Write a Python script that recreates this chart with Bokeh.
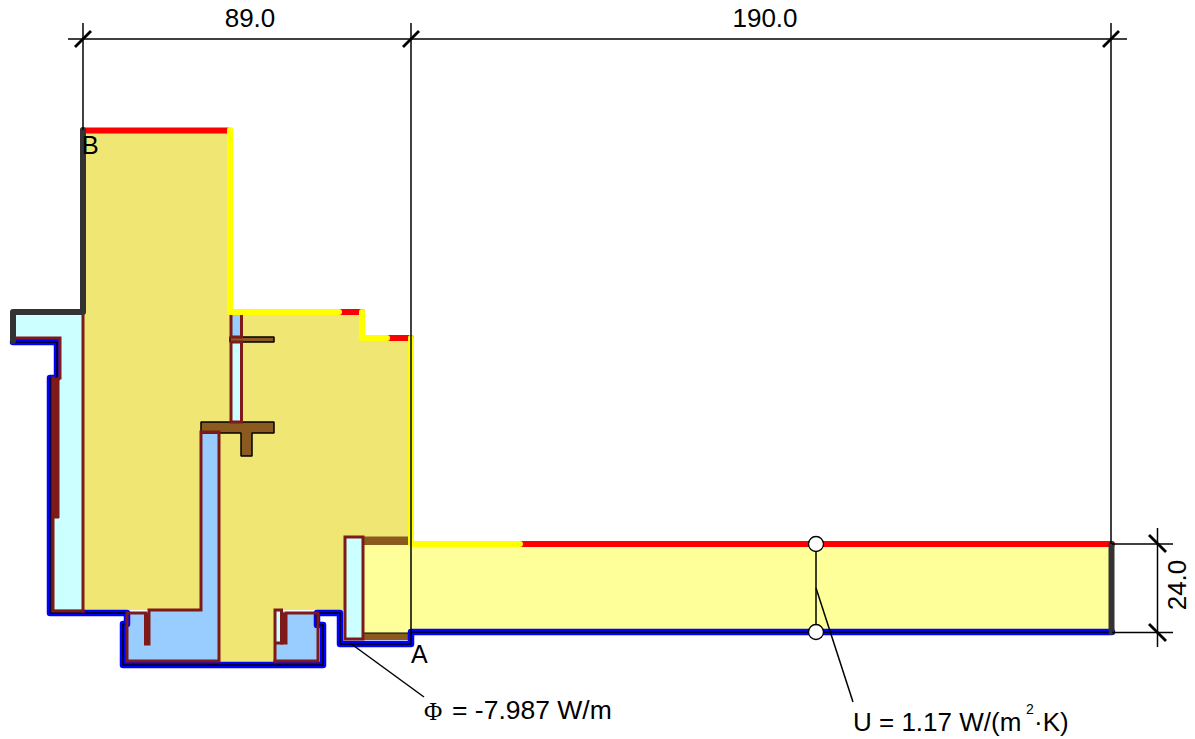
from bokeh.plotting import figure
from bokeh.models import Range1d
from bokeh.embed import file_html
from bokeh.resources import INLINE
from bokeh.core.properties import value

KHAKI = "#F0E674"; PALE = "#FFFF99"; CYAN = "#CCFFFF"; SKY = "#99CCFF"
BROWN = "#8B5A1E"; WINE = "#7F1A1A"; DARK = "#333333"

# material regions (x list, y list), in drawing coordinates
khaki_x = [83, 230, 230, 362, 362, 411, 411, 363, 345, 345, 274, 274, 219, 219, 201, 201, 83]
khaki_y = [130, 130, 312, 312, 338, 338, 544, 544, 537, 610, 610, 662, 662, 432, 432, 610, 610]
pale_x = [363, 411, 411, 1112, 1112, 411, 411, 363]
pale_y = [544, 544, 544, 544, 632, 632, 636, 636]
cyan_left_x = [13, 83, 83, 52, 52, 59, 59, 13]
cyan_left_y = [312, 312, 611, 611, 378, 378, 338, 338]
sky_left_x = [127, 145, 145, 149, 149, 201, 201, 219, 219, 127]
sky_left_y = [613, 613, 644, 644, 610, 610, 432, 432, 661, 661]
sky_right_x = [274, 274, 281, 287, 287, 318, 318]
sky_right_y = [661, 643, 643, 643, 613, 613, 661]
cyan_slot_x = [274, 281, 281, 274]
cyan_slot_y = [610, 610, 643, 643]
sky_top_x = [230, 242, 242, 230]
sky_top_y = [312, 312, 338, 338]
cyan_mid_x = [230, 242, 242, 230]
cyan_mid_y = [342, 342, 422, 422]
cyan_door_x = [345, 363, 363, 345]
cyan_door_y = [537, 537, 639, 639]

# timber parts
shelf_x = [230, 274, 274, 230]
shelf_y = [337, 337, 342, 342]
tee_x = [201, 274, 274, 252, 252, 241, 241, 201]
tee_y = [422, 422, 433, 433, 456, 456, 433, 433]
strip_top_x = [363, 408, 408, 363]
strip_top_y = [536.5, 536.5, 545, 545]
strip_bot_x = [363, 408, 408, 363]
strip_bot_y = [633, 633, 640, 640]

# solid wine-coloured fins
fin_a_x = [53, 59, 59, 53]
fin_a_y = [378, 378, 518, 518]
fin_b_x = [145, 149, 149, 145]
fin_b_y = [613, 613, 644, 644]
fin_c_x = [282, 286, 286, 282]
fin_c_y = [613, 613, 643, 643]

# boundary paths
bound_dark = [([83, 83, 13, 13], [130, 312, 312, 341]), ([1111.5, 1111.5], [544, 632])]
outer_x = [13, 57, 57, 50, 50, 127, 127, 123, 123, 323, 323, 317, 317, 340, 340, 411, 411, 1112]
outer_y = [342, 342, 378, 378, 613, 613, 624, 624, 665, 665, 625, 625, 613, 613, 644, 644, 632, 632]
bound_yellow = [([230, 230, 339], [130, 312, 312]),
                ([362, 362, 387], [312, 338, 338]),
                ([411, 411, 520], [338, 544, 544])]
bound_red = [([83, 228], [130.5, 130.5]), ([339, 362], [312, 312]),
             ([387, 411], [338, 338]), ([520, 1112], [544, 544])]

# wine-coloured frame lines
frames = [
    ([13, 60, 60], [338, 338, 378]),
    ([83, 83], [312, 611]),
    ([53, 53, 83], [378, 611, 611]),
    ([127, 145.5, 145.5, 149, 149, 201, 201, 219, 219, 127, 127], [613, 613, 644, 644, 610, 610, 432, 432, 661, 661, 613]),
    ([275, 275, 281.5, 281.5, 275], [661, 610, 610, 643, 643]),
    ([282, 282, 286, 286, 318, 318, 275], [613, 643, 643, 613, 613, 661, 661]),
    ([231, 231, 241.5, 241.5], [312, 337, 337, 312]),
    ([231, 241.5, 241.5, 231, 231], [342, 342, 422, 422, 342]),
    ([345, 363, 363, 345, 345], [537, 537, 639, 639, 537]),
]

# dimension lines
dim_lines = [
    ([68, 1127], [39, 39]), ([83, 83], [23, 130]), ([411, 411], [23, 633]), ([1111, 1111], [23, 544]),
    ([1112, 1173], [544, 544]), ([1112, 1173], [632.5, 632.5]), ([1157.5, 1157.5], [528, 647]),
    ([816, 816], [544, 632]), ([816, 853], [588, 702]), ([350, 424], [643, 697]),
]
ticks = [([75, 91], [47, 31]), ([403, 419], [47, 31]), ([1103, 1119], [47, 31]),
         ([1149, 1166], [535, 552]), ([1149, 1166], [624, 641])]
marker_x = [816, 816]
marker_y = [544, 632]

labels = [("89.0", 250, 18, "center", 26, 0), ("190.0", 765, 18, "center", 26, 0),
          ("24.0", 1177, 585, "center", 26, 90),
          ("A", 411, 654, "left", 25, 0), ("B", 82, 145, "left", 25, 0),
          ("= -7.987 W/m", 452, 710, "left", 26.5, 0),
          ("U = 1.17 W/(m", 853, 722, "left", 26, 0),
          ("·K)", 1034, 722, "left", 26, 0)]

p = figure(width=1195, height=739, output_backend="svg", toolbar_location=None,
           x_range=Range1d(0.5, 1195.5), y_range=Range1d(739.5, 0.5), min_border=0)
p.axis.visible = False
p.grid.visible = False
p.outline_line_color = None
p.styles = {"position": "absolute", "top": "0", "left": "0"}

p.patch(khaki_x, khaki_y, fill_color=KHAKI, line_color=None)
p.patch(pale_x, pale_y, fill_color=PALE, line_color=None)
for xs, ys, c in [(cyan_left_x, cyan_left_y, CYAN), (sky_left_x, sky_left_y, SKY),
                  (sky_right_x, sky_right_y, SKY), (cyan_slot_x, cyan_slot_y, CYAN),
                  (sky_top_x, sky_top_y, SKY), (cyan_mid_x, cyan_mid_y, CYAN),
                  (cyan_door_x, cyan_door_y, CYAN)]:
    p.patch(xs, ys, fill_color=c, line_color=None)

for xs, ys, in [(shelf_x, shelf_y), (tee_x, tee_y)]:
    p.patch(xs, ys, fill_color=BROWN, line_color="black", line_width=1.5)
for xs, ys in [(strip_top_x, strip_top_y), (strip_bot_x, strip_bot_y)]:
    p.patch(xs, ys, fill_color=BROWN, line_color=None)
p.line(strip_bot_x[:2], strip_bot_y[:2], line_color="black", line_width=1.2)

p.line(outer_x, outer_y, line_color="#0000FF", line_width=6.5, line_join="round", line_cap="round")
p.line(outer_x, outer_y, line_color="black", line_width=1.5, line_join="miter")

for xs, ys in [(fin_a_x, fin_a_y), (fin_b_x, fin_b_y), (fin_c_x, fin_c_y)]:
    p.patch(xs, ys, fill_color=WINE, line_color=WINE, line_width=1)
for xs, ys in frames:
    p.line(xs, ys, line_color=WINE, line_width=3, line_join="miter", line_cap="square")

for xs, ys in bound_red:
    p.line(xs, ys, line_color="#FF0000", line_width=6, line_cap="round")
for xs, ys in bound_yellow:
    p.line(xs, ys, line_color="#FFFF00", line_width=6, line_join="round", line_cap="round")
for xs, ys in bound_dark:
    p.line(xs, ys, line_color=DARK, line_width=6, line_join="round", line_cap="round")

for xs, ys in dim_lines:
    p.line(xs, ys, line_color="black", line_width=1.5)
for xs, ys in ticks:
    p.line(xs, ys, line_color="black", line_width=2.8)
p.scatter(marker_x, marker_y, size=15, fill_color="white", line_color="black", line_width=1.3)

for t, x, y, align, size, rot in labels:
    p.text([x], [y], text=[t], text_align=align, text_baseline="alphabetic",
           text_font=value("Liberation Sans"), text_font_size=f"{size}px",
           text_color="black", angle=rot, angle_units="deg")
p.text([424], [711], text=["Φ"], text_font=value("Liberation Serif"), text_font_size="25px",
       text_baseline="alphabetic", text_color="black")
p.text([1026], [709], text=["2"], text_font=value("Liberation Sans"), text_font_size="14px",
       text_baseline="alphabetic", text_color="black")

open("out.html", "w").write(file_html(p, INLINE))
